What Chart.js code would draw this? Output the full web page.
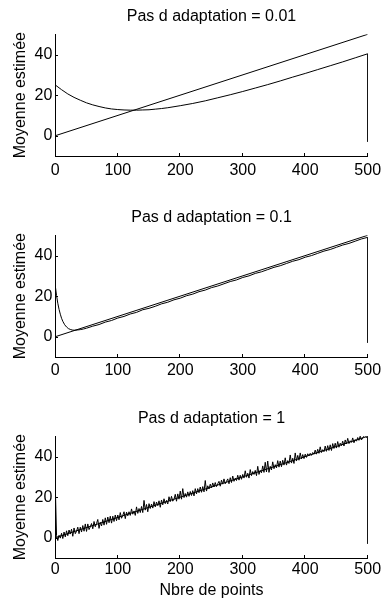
<!DOCTYPE html>
<html><head><meta charset="utf-8">
<script src="https://cdn.jsdelivr.net/npm/chart.js@4.4.1/dist/chart.umd.min.js"></script>
<style>
html,body{margin:0;padding:0;background:#fff;width:382px;height:602px;overflow:hidden;}
canvas{position:absolute;left:0;}
</style></head><body>
<canvas id="c1" width="382" height="200" style="top:0px"></canvas>
<canvas id="c2" width="382" height="200" style="top:201px"></canvas>
<canvas id="c3" width="382" height="200" style="top:402px"></canvas>
<script>
const titles = ["Pas d adaptation = 0.01", "Pas d adaptation = 0.1", "Pas d adaptation = 1"];
const yAxisLabel = "Moyenne estimée";
const xAxisLabel = "Nbre de points";
const xTickValues = [0, 100, 200, 300, 400, 500];
const yTickValues = [0, 20, 40];

// true mean (ramp)
const trueX = [0, 500];
const trueY = [0, 50];

// estimate, step 0.01
const est1X = [0,10,20,30,40,50,60,70,80,90,100,110,120,130,140,150,160,170,180,190,200,220,240,260,280,300,320,340,360,380,400,420,440,460,480,500,500];
const est1Y = [25.0,22.7,20.6,18.9,17.5,16.2,15.2,14.4,13.7,13.2,12.9,12.7,12.6,12.6,12.7,12.8,13.1,13.4,13.8,14.3,14.8,15.9,17.2,18.7,20.2,21.8,23.5,25.2,27.0,28.9,30.7,32.6,34.5,36.4,38.4,40.4,-3];

// estimate, step 0.1
const est2X = [0,2,4,6,8,10,12,15,18,21,24,27,30,35,40,45,50,60,70,80,90,100,110,120,130,140,150,160,170,180,190,200,210,220,230,240,250,260,270,280,290,300,310,320,330,340,350,360,370,380,390,400,410,420,430,440,450,460,470,480,490,500,500];
const est2Y = [25.0,20.3,16.5,13.5,11.1,9.1,7.6,5.9,4.8,4.0,3.6,3.3,3.2,3.3,3.5,3.8,4.2,5.2,6.0,7.2,8.0,9.2,10.0,11.2,12.0,13.3,14.0,15.0,16.2,17.0,18.2,19.0,20.2,21.0,22.2,23.0,24.2,25.0,26.1,27.2,28.0,29.2,30.0,31.2,32.0,33.1,34.2,35.0,36.1,37.2,38.0,39.2,40.0,41.1,42.2,43.0,44.1,45.2,46.0,47.1,48.2,49.0,-3];

// estimate, step 1 (follows noisy signal)
const est3X = [0,2,4,6,8,10,12,14,16,18,20,22,24,26,28,30,32,34,36,38,40,42,44,46,48,50,52,54,56,58,60,62,64,66,68,70,72,74,76,78,80,82,84,86,88,90,92,94,96,98,
100,102,104,106,108,110,112,114,116,118,120,122,124,126,128,130,132,134,136,138,140,142,144,146,148,150,152,154,156,158,160,162,164,166,168,170,172,174,176,178,180,182,184,186,188,190,192,194,196,198,
200,202,204,206,208,210,212,214,216,218,220,222,224,226,228,230,232,234,236,238,240,242,244,246,248,250,252,254,256,258,260,262,264,266,268,270,272,274,276,278,280,282,284,286,288,290,292,294,296,298,
300,302,304,306,308,310,312,314,316,318,320,322,324,326,328,330,332,334,336,338,340,342,344,346,348,350,352,354,356,358,360,362,364,366,368,370,372,374,376,378,380,382,384,386,388,390,392,394,396,398,
400,402,404,406,408,410,412,414,416,418,420,422,424,426,428,430,432,434,436,438,440,442,444,446,448,450,452,454,456,458,460,462,464,466,468,470,472,474,476,478,480,482,484,486,488,490,492,494,496,498,500,500];
const est3Y = [25.0,1.0,-1.4,1.2,-0.2,2.2,-0.4,2.8,0.4,3.4,
1.0,3.8,1.8,4.2,0.7,4.8,2.0,3.2,5.2,2.0,
5.2,2.8,6.0,3.2,6.8,3.1,6.8,4.0,5.4,7.0,
4.4,8.0,5.4,7.0,9.0,4.6,7.6,5.8,9.0,6.2,
9.8,6.6,10.2,7.4,10.6,7.2,10.6,8.0,11.2,8.4,
11.2,8.8,12.4,9.6,11.0,12.8,9.4,12.6,10.8,12.8,
11.0,14.2,11.6,13.2,11.0,15.2,12.0,14.4,12.4,15.4,
12.4,18.4,13.6,16.4,12.8,16.8,14.4,16.6,14.6,17.8,
15.2,17.6,15.8,18.2,15.0,18.6,16.2,19.2,16.8,18.4,
16.6,20.2,17.8,20.4,18.0,19.0,21.4,18.0,21.6,19.0,
23.0,19.0,24.2,19.8,21.8,20.0,22.6,20.4,22.8,20.8,
23.2,20.6,24.2,21.6,24.2,22.2,25.0,22.4,25.2,22.6,
28.2,23.0,25.6,24.0,26.4,24.6,27.0,25.0,27.2,25.2,
26.6,27.8,25.4,28.4,26.4,29.0,26.6,27.8,29.0,26.6,
29.6,27.2,30.4,27.8,29.4,28.2,30.8,28.4,30.8,28.8,
31.2,29.4,33.0,29.8,31.8,29.4,33.6,30.6,32.6,31.2,
33.2,30.6,35.2,31.2,33.2,32.0,35.4,32.2,37.2,32.4,
37.8,32.2,35.2,33.4,37.4,34.0,36.0,34.4,38.0,34.8,
37.8,35.0,38.2,35.8,39.4,35.8,38.0,36.6,40.8,36.8,
39.2,36.6,41.8,37.8,40.6,38.2,41.8,38.8,41.0,39.0,
41.2,39.6,41.4,40.4,41.6,40.6,42.0,41.2,43.2,41.2,
43.6,41.6,44.8,42.0,43.4,42.4,45.2,42.6,45.4,43.0,
45.8,43.0,46.4,44.0,46.6,44.2,47.4,44.6,46.6,45.4,
47.6,45.2,48.2,46.2,49.0,46.4,47.8,47.0,49.2,46.8,
48.4,47.6,49.4,48.0,50.2,48.2,49.2,50.2,50.4,49.4,
50.0,-3];

const FONT = '"Liberation Sans", Arial, Helvetica, sans-serif';
const font16 = {family: FONT, size: 16, weight: 'normal'};

const innerTicks = {
  id: 'innerTicks',
  afterDraw(chart) {
    const ctx = chart.ctx, xs = chart.scales.x, ys = chart.scales.y, a = chart.chartArea;
    ctx.save();
    ctx.strokeStyle = '#000';
    ctx.lineWidth = 1;
    ctx.beginPath();
    xTickValues.forEach(v => {
      if (v === 0) return;
      const px = Math.round(xs.getPixelForValue(v)) - 0.5;
      ctx.moveTo(px, Math.round(a.bottom));
      ctx.lineTo(px, Math.round(a.bottom) - 3);
    });
    yTickValues.forEach(v => {
      const py = Math.round(ys.getPixelForValue(v)) + 0.5;
      ctx.moveTo(Math.round(a.left), py);
      ctx.lineTo(Math.round(a.left) + 3, py);
    });
    ctx.stroke();
    ctx.restore();
  }
};

function pts(xs, ys) { return xs.map((x, i) => ({x: x, y: ys[i]})); }

function makeChart(id, title, ex, ey, tickPad, showXTitle) {
  new Chart(document.getElementById(id), {
    type: 'line',
    data: {
      datasets: [
        {data: pts(trueX, trueY), borderColor: '#000', borderWidth: 1, pointRadius: 0, tension: 0, fill: false},
        {data: pts(ex, ey), borderColor: '#000', borderWidth: 1, pointRadius: 0, tension: 0, fill: false}
      ]
    },
    options: {
      responsive: false,
      animation: false,
      events: [],
      layout: {padding: {left: 0, right: 14.3, top: 0, bottom: 0}},
      plugins: {
        legend: {display: false},
        tooltip: {enabled: false},
        title: {display: true, text: title, fullSize: false, color: '#000', font: font16,
                padding: {top: 6.5, bottom: 8.6}}
      },
      scales: {
        x: {
          type: 'linear', min: 0, max: 500,
          grid: {display: false, drawTicks: false},
          border: {display: true, color: '#000', width: 1},
          ticks: {color: '#000', font: font16, padding: tickPad, maxRotation: 0, autoSkip: false},
          afterBuildTicks: s => { s.ticks = xTickValues.map(v => ({value: v})); },
          afterFit: s => { s.height = 44; s.paddingLeft = 0; s.paddingRight = 0; },
          title: {display: showXTitle, text: xAxisLabel, color: '#000', font: font16, padding: {top: 0, bottom: 1.4}}
        },
        y: {
          type: 'linear', min: -10, max: 50,
          grid: {display: false, drawTicks: false},
          border: {display: true, color: '#000', width: 1},
          ticks: {color: '#000', font: font16, padding: 3},
          afterBuildTicks: s => { s.ticks = yTickValues.map(v => ({value: v})); },
          afterFit: s => { s.width = 55.3; s.paddingTop = 0; s.paddingBottom = 0; },
          title: {display: true, text: yAxisLabel, color: '#000', font: font16, padding: {top: 11.2, bottom: 0}}
        }
      }
    },
    plugins: [innerTicks]
  });
}

makeChart('c1', titles[0], est1X, est1Y, 5, false);
makeChart('c2', titles[1], est2X, est2Y, 4, false);
makeChart('c3', titles[2], est3X, est3Y, 1.5, true);
</script>
</body></html>
